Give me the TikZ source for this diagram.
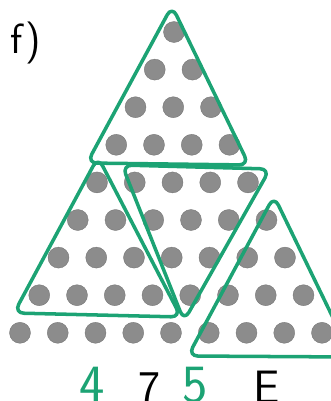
\documentclass[tikz,border=0pt]{standalone}
\usepackage{tikz}
\usetikzlibrary{calc}

\definecolor{markgreen}{RGB}{28,163,116}
\definecolor{dotgray}{RGB}{140,140,140}

\tikzset{
	dot/.style={circle, fill=dotgray, draw=black!55, line width=0.3pt, minimum size=6.3mm, inner sep=0pt},
	loop/.style={draw=markgreen, line width=3pt, rounded corners=3mm, line join=round},
	hand/.style={font=\sffamily\fontsize{40}{40}\selectfont, inner sep=0pt, anchor=base}
}

\begin{document}
\begin{tikzpicture}[x=0.3mm, y=-0.3mm]

		\useasboundingbox (0,0) rectangle (331,401);

		% Label
		\node[hand, font=\sffamily\fontsize{36}{36}\selectfont] (lab) at (26, 53) {f)};

		% Dots: rows 0..8
		\foreach \r in {0,...,8} {
				\foreach \k in {0,...,\r} {
						\node[dot] (d\r\k) at ({174 - 0.375*\r + 37.75*(\k - \r/2)}, {32 + 37.6*\r}) {};
					}
			}

		% Top triangle
		\coordinate (t1a) at (172, 6);
		\coordinate (t1b) at (87, 163);
		\coordinate (t1c) at (249, 165);
		\draw[loop] (t1a) -- (t1b) -- (t1c) -- cycle;

		% Left triangle
		\coordinate (t2a) at (98, 157);
		\coordinate (t2b) at (14, 313);
		\coordinate (t2c) at (181, 317);
		\draw[loop] (t2a) -- (t2b) -- (t2c) -- cycle;

		% Middle triangle (upside down)
		\coordinate (t3a) at (122, 165);
		\coordinate (t3b) at (270, 169);
		\coordinate (t3c) at (184, 321);
		\draw[loop] (t3a) -- (t3b) -- (t3c) -- cycle;

		% Right triangle
		\coordinate (t4a) at (274, 196);
		\coordinate (t4b) at (188, 356);
		\coordinate (t4c) at (352, 357);
		\draw[loop] (t4a) -- (t4b) -- (t4c) -- cycle;

		% Bottom labels
		\node[hand, text=markgreen, font=\sffamily\fontsize{46}{46}\selectfont] (n4) at (92, 402) {4};
		\node[hand] (n7) at (150, 403) {7};
		\node[hand, text=markgreen, font=\sffamily\fontsize{46}{46}\selectfont] (n5) at (195, 402) {5};
		\node[hand] (nE) at (267, 403) {E};

	\end{tikzpicture}
\end{document}
